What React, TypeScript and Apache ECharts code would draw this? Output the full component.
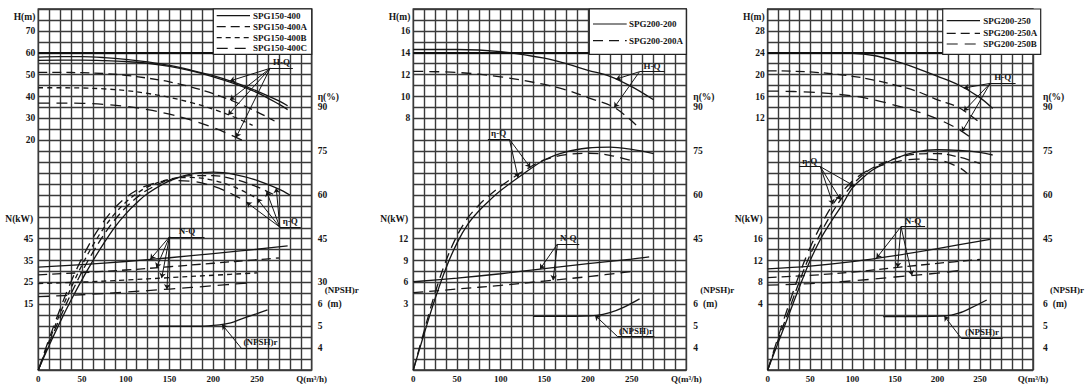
import { useEffect, useRef } from "react";
import * as echarts from "echarts";

type P = [number, number];
type Tick = [number, string];

// ---------------- shared axis values ----------------
const qMax = 312.5;
const qStep = 12.5;
const qTickLabels = [0, 50, 100, 150, 200, 250];
const qTitle = "Q(m³/h)";
const etaTicksBase = [45, 60, 75, 90];
const etaTitleAt = 93.75;
const npshTicks = [4, 5, 6];
const npshTitleAt = 6.65;

// ---------------- Panel 1 : SPG150-400 ----------------
const p1Names = ["SPG150-400", "SPG150-400A", "SPG150-400B", "SPG150-400C"];
const p1HTicks = [20, 30, 40, 50, 60, 70];
const p1NTicks = [15, 25, 35, 45];
const p1H400: P[] = [[0, 58], [25, 58.2], [50, 58.2], [75, 57.8], [100, 57], [125, 55.8], [150, 54.2], [175, 52], [200, 49.5], [225, 46.3], [250, 42.5], [275, 38], [285, 35.8]];
const p1H400b: P[] = [[0, 56.5], [25, 56.6], [50, 56.6], [75, 56.4], [100, 56], [125, 55.2], [150, 53.8], [175, 51.7], [200, 49], [225, 45.8], [250, 41.8], [275, 36.5], [285, 34]];
const p1HA: P[] = [[0, 51], [25, 51], [50, 50.9], [75, 50.5], [100, 49.7], [125, 48.4], [150, 46.7], [175, 44.3], [200, 41.3], [225, 37.5], [250, 33], [270, 28.8]];
const p1HB: P[] = [[0, 44], [25, 44], [50, 43.9], [75, 43.5], [100, 42.7], [125, 41.4], [150, 39.6], [175, 37.2], [200, 34.2], [225, 30.4], [245, 26.8]];
const p1HC: P[] = [[0, 37], [25, 37], [50, 36.9], [75, 36.4], [100, 35.5], [125, 34], [150, 31.9], [175, 29.2], [200, 25.8], [220, 22.4], [235, 19.6]];
const p1E400: P[] = [[0, 0], [12.5, 8.5], [25, 16.5], [37.5, 24], [50, 31], [62.5, 37.5], [75, 43.5], [87.5, 49], [100, 53.5], [112.5, 57.3], [125, 60.5], [150, 64.8], [175, 67.2], [200, 67.8], [225, 67], [250, 65], [275, 62], [287.5, 60]];
const p1EA: P[] = [[0, 0], [12.5, 9.3], [25, 18], [37.5, 26.2], [50, 33.7], [62.5, 40.4], [75, 46.4], [87.5, 51.5], [100, 55.7], [112.5, 59.1], [125, 61.8], [150, 65.2], [175, 66.6], [200, 66.6], [225, 65.3], [250, 62.8], [270, 60]];
const p1EB: P[] = [[0, 0], [12.5, 10], [25, 19.5], [37.5, 28.2], [50, 36], [62.5, 42.8], [75, 48.7], [87.5, 53.6], [100, 57.5], [112.5, 60.5], [125, 62.8], [150, 65.4], [175, 66], [200, 65], [225, 62.6], [250, 58.8]];
const p1EC: P[] = [[0, 0], [12.5, 10.8], [25, 21], [37.5, 30.3], [50, 38.4], [62.5, 45.3], [75, 51], [87.5, 55.6], [100, 59.1], [112.5, 61.6], [125, 63.3], [150, 64.9], [175, 64.7], [200, 63], [225, 59.8], [240, 57.2]];
const p1N400: P[] = [[0, 32], [50, 33.2], [100, 34.6], [150, 36.3], [200, 38.2], [250, 40.2], [285, 41.7]];
const p1NA: P[] = [[0, 28.5], [50, 29.5], [100, 30.7], [150, 32.2], [200, 33.8], [250, 35.4], [275, 36.2]];
const p1NB: P[] = [[0, 24.5], [50, 25.2], [100, 26.1], [150, 27.2], [200, 28.3], [250, 29.4]];
const p1NC: P[] = [[0, 18.5], [50, 19.4], [100, 20.6], [150, 22], [200, 23.5], [240, 24.8]];
const p1S: P[] = [[137, 5], [160, 5], [185, 5], [207, 5.06], [220, 5.15], [234, 5.36], [250, 5.58], [262, 5.75]];
const p1AnnH = { text: "H-Q", under: [265, 291, 52.9], from: [265, 52.9] as P, to: [[219, 47.1], [219, 38.4], [217, 31.6], [226, 21.3]] as P[] };
const p1AnnE = { text: "η-Q", under: [276, 300, 49], from: [276, 49] as P, to: [[272, 62.4], [261, 61.2], [250, 58.8], [238, 57.5]] as P[] };
const p1AnnN = { text: "N-Q", under: [150, 190, 45.9], from: [150, 45.9] as P, to: [[128, 35.6], [135, 31.7], [141, 27.0], [147, 21.9]] as P[] };
const p1AnnS = { text: "(NPSH)r", under: [232, 276, 4.0], from: [232, 4.0] as P, to: [[210, 5.08]] as P[] };

// ---------------- Panel 2 : SPG200-200 ----------------
const p2Names = ["SPG200-200", "SPG200-200A"];
const p2HTicks = [8, 10, 12, 14, 16];
const p2NTicks = [3, 6, 9, 12];
const p2H: P[] = [[0, 14.3], [50, 14.3], [100, 14.1], [150, 13.5], [175, 13], [200, 12.4], [225, 11.85], [250, 10.9], [275, 9.7]];
const p2HA: P[] = [[0, 12.3], [50, 12.2], [100, 11.8], [150, 11.1], [175, 10.6], [200, 9.9], [230, 9.0], [255, 7.4]];
const p2E: P[] = [[0, 0], [12.5, 12.5], [25, 24.5], [37.5, 35], [50, 43.5], [62.5, 50], [75, 54.5], [87.5, 58.2], [100, 61.5], [125, 67], [150, 72], [175, 74.8], [200, 76.1], [225, 76.4], [250, 75.6], [275, 74.2]];
const p2EA: P[] = [[0, 0], [12.5, 13.5], [25, 26.5], [37.5, 37.5], [50, 46], [62.5, 52.2], [75, 56.5], [87.5, 60], [100, 63], [125, 68], [150, 72], [175, 73.8], [200, 74.3], [225, 73.6], [255, 71.3]];
const p2N: P[] = [[0, 6.1], [50, 6.6], [100, 7.2], [150, 7.9], [200, 8.6], [250, 9.2], [270, 9.5]];
const p2NA: P[] = [[0, 4.6], [50, 5.1], [100, 5.6], [150, 6.2], [200, 6.8], [250, 7.5]];
const p2S: P[] = [[137, 5.45], [175, 5.45], [210, 5.5], [225, 5.62], [240, 5.85], [259, 6.25]];
const p2AnnH = { text: "H-Q", under: [259, 287.5, 12.27], from: [259, 12.27] as P, to: [[232, 11.58], [230, 9.0]] as P[] };
const p2AnnE = { text: "η-Q", under: [85.4, 110, 79.1], from: [110, 79.1] as P, to: [[120, 65.9], [134, 69.4]] as P[] };
const p2AnnN = { text: "N-Q", under: [165, 190, 11.28], from: [165, 11.28] as P, to: [[145, 7.83], [160, 6.32]] as P[] };
const p2AnnS = { text: "(NPSH)r", under: [234, 276, 4.52], from: [234, 4.52] as P, to: [[208, 5.5]] as P[] };

// ---------------- Panel 3 : SPG200-250 ----------------
const p3Names = ["SPG200-250", "SPG200-250A", "SPG200-250B"];
const p3HTicks = [12, 16, 20, 24, 28];
const p3NTicks = [4, 8, 12, 16];
const p3H: P[] = [[0, 24], [50, 24], [100, 23.9], [125, 23.5], [150, 22.5], [175, 21.2], [200, 19.7], [225, 18.1], [250, 15.8], [265, 13.8]];
const p3HA: P[] = [[0, 20.7], [50, 20.5], [100, 19.7], [125, 19], [150, 18.1], [175, 17], [200, 15.4], [225, 14], [250, 11.2]];
const p3HB: P[] = [[0, 17], [50, 16.8], [100, 16.1], [125, 15.4], [150, 14.4], [175, 13.3], [200, 11.9], [225, 10], [240, 8.4]];
const p3E: P[] = [[0, 0], [12.5, 9.5], [25, 19], [37.5, 28.5], [50, 37.5], [62.5, 45], [75, 51], [87.5, 56.5], [100, 62.5], [112.5, 66], [125, 68.8], [150, 72.5], [175, 74.8], [200, 75.5], [225, 75.3], [250, 74.6], [265, 73.7]];
const p3EA: P[] = [[0, 0], [12.5, 10.5], [25, 20.5], [37.5, 30.5], [50, 39.5], [62.5, 47], [75, 53.5], [87.5, 59], [100, 63.5], [112.5, 67], [125, 69.5], [150, 72.5], [175, 74], [200, 74.2], [225, 73], [250, 70.8]];
const p3EB: P[] = [[0, 0], [12.5, 11.5], [25, 22.5], [37.5, 33], [50, 42], [62.5, 49.5], [75, 56], [87.5, 61], [100, 64.8], [112.5, 67.5], [125, 69.3], [150, 71.3], [175, 72.3], [200, 72], [225, 69.5], [235, 67.4]];
const p3N: P[] = [[0, 10.5], [50, 11], [100, 11.8], [150, 12.9], [200, 14.2], [262, 15.9]];
const p3NA: P[] = [[0, 8.9], [50, 9.3], [100, 9.9], [150, 10.7], [200, 11.5], [250, 12.2]];
const p3NB: P[] = [[0, 7.5], [50, 7.8], [100, 8.3], [150, 9], [200, 9.7], [231, 10.3]];
const p3S: P[] = [[136, 5.44], [175, 5.44], [209, 5.47], [225, 5.6], [240, 5.85], [258, 6.2]];
const p3AnnH = { text: "H-Q", under: [262, 292, 18.4], from: [262, 18.4] as P, to: [[231, 17.55], [231, 13.33], [229, 9.57]] as P[] };
const p3AnnE = { text: "η-Q", under: [37, 62, 69.7], from: [62, 69.7] as P, to: [[102, 63.06], [86, 58.3], [77, 56.8]] as P[] };
const p3AnnN = { text: "N-Q", under: [157, 185.4, 18.2], from: [157, 18.2] as P, to: [[128, 12.42], [153, 10.75], [170, 9.28]] as P[] };
const p3AnnS = { text: "(NPSH)r", under: [228, 276.8, 4.45], from: [228, 4.45] as P, to: [[208, 5.47]] as P[] };

// ---------------- styling ----------------
const FONT = "'Liberation Serif', 'DejaVu Serif', serif";
const INK = "#161616";
const GRID_C = "#3a3a3a";
const GRID_W = 1.4;
const SOLID = "solid";
const DA = [9, 5];
const DB = [5, 4];
const DC = [11, 7];

type Ann = { text: string; under: number[]; from: P; to: P[] };
type Curve = { name: string; data: P[]; ax: number; dash: any; ann?: Ann; thick?: number };

interface Panel {
  grid: { left: number; top: number; width: number; height: number };
  rMargin: number;
  h: { min: number; max: number; step: number; ticks: number[]; title: number };
  n: { min: number; max: number; ticks: number[]; title: number };
  eta: number[];
  legend: { x: number; w: number; rows: number[]; lx0: number; lx1: number; tx: number; names: string[]; dashes: any[] };
  curves: Curve[];
}

const panels: Panel[] = [
  {
    grid: { left: 38.3, top: 9, width: 273.4, height: 361 },
    rMargin: 6,
    h: { min: -85, max: 80, step: 5, ticks: p1HTicks, title: 76.5 },
    n: { min: -15, max: 150, ticks: p1NTicks, title: 54 },
    eta: [30, ...etaTicksBase],
    legend: { x: 213.3, w: 98.4, rows: [15.7, 26.7, 37.7, 48.3], lx0: 216.7, lx1: 250, tx: 253, names: p1Names, dashes: [SOLID, DA, DB, DC] },
    curves: [
      { name: p1Names[0], data: p1H400, ax: 0, dash: SOLID, ann: p1AnnH, thick: 60 },
      { name: p1Names[0], data: p1H400b, ax: 0, dash: SOLID },
      { name: p1Names[1], data: p1HA, ax: 0, dash: DA },
      { name: p1Names[2], data: p1HB, ax: 0, dash: DB },
      { name: p1Names[3], data: p1HC, ax: 0, dash: DC },
      { name: p1Names[0], data: p1N400, ax: 1, dash: SOLID, ann: p1AnnN },
      { name: p1Names[1], data: p1NA, ax: 1, dash: DA },
      { name: p1Names[2], data: p1NB, ax: 1, dash: DB },
      { name: p1Names[3], data: p1NC, ax: 1, dash: DC },
      { name: p1Names[0], data: p1E400, ax: 2, dash: SOLID, ann: p1AnnE },
      { name: p1Names[1], data: p1EA, ax: 2, dash: DA },
      { name: p1Names[2], data: p1EB, ax: 2, dash: DB },
      { name: p1Names[3], data: p1EC, ax: 2, dash: DC },
      { name: p1Names[0], data: p1S, ax: 3, dash: SOLID, ann: p1AnnS },
    ],
  },
  {
    grid: { left: 413.3, top: 9, width: 273, height: 361 },
    rMargin: 7,
    h: { min: -15, max: 18, step: 1, ticks: p2HTicks, title: 17.3 },
    n: { min: -6, max: 43.5, ticks: p2NTicks, title: 14.7 },
    eta: etaTicksBase,
    legend: { x: 589.3, w: 97, rows: [24, 40.7], lx0: 593, lx1: 626.7, tx: 629, names: p2Names, dashes: [SOLID, [10, 6]] },
    curves: [
      { name: p2Names[0], data: p2H, ax: 0, dash: SOLID, ann: p2AnnH, thick: 14 },
      { name: p2Names[1], data: p2HA, ax: 0, dash: [10, 6] },
      { name: p2Names[0], data: p2N, ax: 1, dash: SOLID, ann: p2AnnN },
      { name: p2Names[1], data: p2NA, ax: 1, dash: [10, 6] },
      { name: p2Names[0], data: p2E, ax: 2, dash: SOLID, ann: p2AnnE },
      { name: p2Names[1], data: p2EA, ax: 2, dash: [10, 6] },
      { name: p2Names[0], data: p2S, ax: 3, dash: SOLID, ann: p2AnnS },
    ],
  },
  {
    grid: { left: 767.7, top: 9, width: 273, height: 361 },
    rMargin: 10,
    h: { min: -34, max: 32, step: 2, ticks: p3HTicks, title: 30.6 },
    n: { min: -8, max: 58, ticks: p3NTicks, title: 19.6 },
    eta: etaTicksBase,
    legend: { x: 942.7, w: 98, rows: [20.7, 33.3, 44], lx0: 946.7, lx1: 980, tx: 983.3, names: p3Names, dashes: [SOLID, DA, DC] },
    curves: [
      { name: p3Names[0], data: p3H, ax: 0, dash: SOLID, ann: p3AnnH, thick: 24 },
      { name: p3Names[1], data: p3HA, ax: 0, dash: DA },
      { name: p3Names[2], data: p3HB, ax: 0, dash: DC },
      { name: p3Names[0], data: p3N, ax: 1, dash: SOLID, ann: p3AnnN },
      { name: p3Names[1], data: p3NA, ax: 1, dash: DA },
      { name: p3Names[2], data: p3NB, ax: 1, dash: DC },
      { name: p3Names[0], data: p3E, ax: 2, dash: SOLID, ann: p3AnnE },
      { name: p3Names[1], data: p3EA, ax: 2, dash: DA },
      { name: p3Names[2], data: p3EB, ax: 2, dash: DC },
      { name: p3Names[0], data: p3S, ax: 3, dash: SOLID, ann: p3AnnS },
    ],
  },
];

const txt = { fontFamily: FONT, fontSize: 9.5, fontWeight: "bold" as const, color: INK };
const rich = {
  n: { ...txt },
  u: { ...txt, padding: [0, 0, 0, 5] },
  p: { ...txt, fontSize: 9, padding: [0, 0, 0, 7] },
};

function finder(ticks: Tick[]) {
  return (v: number) => {
    for (const t of ticks) if (Math.abs(t[0] - v) < 1e-6) return t[1];
    return "";
  };
}

function yAxis(grid: number, pos: string, min: number, max: number, interval: number, ticks: Tick[], split: boolean, margin: number) {
  return {
    type: "value",
    gridIndex: grid,
    position: pos,
    min,
    max,
    interval,
    axisLine: { show: false },
    axisTick: { show: false },
    splitLine: { show: split, lineStyle: { color: GRID_C, width: GRID_W } },
    axisLabel: {
      show: true,
      customValues: ticks.map((t) => t[0]),
      formatter: finder(ticks),
      margin,
      ...txt,
      rich,
    },
  };
}

function buildOption() {
  const grids: any[] = [];
  const xAxes: any[] = [];
  const yAxes: any[] = [];
  const series: any[] = [];
  const graphics: any[] = [];

  panels.forEach((p, gi) => {
    grids.push({ ...p.grid, show: true, borderColor: "#2a2a2a", borderWidth: 1.4, backgroundColor: "transparent" });
    const xTicks: Tick[] = [...qTickLabels.map((v) => [v, String(v)] as Tick), [qMax, qTitle]];
    xAxes.push({
      type: "value",
      gridIndex: gi,
      min: 0,
      max: qMax,
      interval: qStep,
      axisLine: { show: false },
      axisTick: { show: false },
      splitLine: { show: true, lineStyle: { color: GRID_C, width: GRID_W } },
      axisLabel: { customValues: xTicks.map((t) => t[0]), formatter: finder(xTicks), margin: 4, ...txt, fontSize: 9 },
    });
    const hTicks: Tick[] = [...p.h.ticks.map((v) => [v, String(v)] as Tick), [p.h.title, "H(m)"]];
    const nTicks: Tick[] = [...p.n.ticks.map((v) => [v, String(v)] as Tick), [p.n.title, "N(kW)"]];
    const eTicks: Tick[] = [...p.eta.map((v) => [v, String(v)] as Tick), [etaTitleAt, "η(%)"]];
    const sTicks: Tick[] = [
      ...npshTicks.map((v) => [v, v === 6 ? "{n|6}{u|(m)}" : `{n|${v}}`] as Tick),
      [npshTitleAt, "{p|(NPSH)r}"],
    ];
    yAxes.push(yAxis(gi, "left", p.h.min, p.h.max, p.h.step, hTicks, true, 3));
    yAxes.push(yAxis(gi, "left", p.n.min, p.n.max, (p.n.max - p.n.min) / 33, nTicks, false, 5));
    yAxes.push(yAxis(gi, "right", 0, 123.75, 3.75, eTicks, false, p.rMargin));
    yAxes.push(yAxis(gi, "right", 3, 19.5, 0.5, sTicks, false, p.rMargin));

    p.curves.forEach((c) => {
      const s: any = {
        type: "line",
        name: c.name,
        data: c.data,
        xAxisIndex: gi,
        yAxisIndex: gi * 4 + c.ax,
        symbol: "none",
        smooth: 0.35,
        silent: true,
        z: 3,
        lineStyle: { color: INK, width: 1.3, type: c.dash },
      };
      const mlData: any[] = [];
      const mpData: any[] = [];
      if (c.thick !== undefined) {
        mlData.push([
          { coord: [0, c.thick], symbol: "none", lineStyle: { width: 1.8, color: "#111" } },
          { coord: [qMax, c.thick], symbol: "none" },
        ]);
      }
      if (c.ann) {
        const a = c.ann;
        mlData.push([
          { coord: [a.under[0], a.under[2]], symbol: "none" },
          { coord: [a.under[1], a.under[2]], symbol: "none" },
        ]);
        a.to.forEach((t) => {
          mlData.push([{ coord: a.from, symbol: "none" }, { coord: t, symbol: "arrow" }]);
        });
        mpData.push({
          coord: [(a.under[0] + a.under[1]) / 2, a.under[2]],
          label: { formatter: a.text },
        });
      }
      if (mlData.length) {
        s.markLine = {
          silent: true,
          animation: false,
          symbolSize: 5,
          label: { show: false },
          emphasis: { disabled: true },
          lineStyle: { color: INK, width: 1, type: "solid" },
          data: mlData,
        };
      }
      if (mpData.length) {
        s.markPoint = {
          silent: true,
          animation: false,
          symbol: "circle",
          symbolSize: 1,
          itemStyle: { color: "rgba(0,0,0,0)" },
          label: { show: true, position: "top", distance: 1, ...txt, fontSize: 9 },
          data: mpData,
        };
      }
      series.push(s);
    });

    // legend box
    const L = p.legend;
    const top = p.grid.top;
    graphics.push({
      type: "rect",
      z: 50,
      silent: true,
      shape: { x: L.x, y: top, width: L.w, height: 45.3 },
      style: { fill: "#fff", stroke: "#222", lineWidth: 1.2 },
    });
    L.names.forEach((nm, i) => {
      const y = L.rows[i];
      graphics.push({
        type: "line",
        z: 51,
        silent: true,
        shape: { x1: L.lx0, y1: y, x2: L.lx1, y2: y },
        style: { stroke: INK, lineWidth: 1.2, lineDash: L.dashes[i] === SOLID ? null : L.dashes[i] },
      });
      graphics.push({
        type: "text",
        z: 51,
        silent: true,
        x: L.tx,
        y,
        style: { text: nm, fill: INK, fontFamily: FONT, fontSize: 9, fontWeight: "bold", verticalAlign: "middle", align: "left" },
      });
    });
  });

  return {
    animation: false,
    backgroundColor: "#fff",
    grid: grids,
    xAxis: xAxes,
    yAxis: yAxes,
    series,
    graphic: graphics,
  };
}

export default function App() {
  const ref = useRef<HTMLDivElement>(null);
  useEffect(() => {
    if (!ref.current) return;
    const chart = echarts.init(ref.current, null, { renderer: "svg" });
    chart.setOption(buildOption() as any);
    return () => chart.dispose();
  }, []);
  return <div ref={ref} style={{ position: "absolute", left: 0, top: 0, width: 1087, height: 384, background: "#fff" }} />;
}
